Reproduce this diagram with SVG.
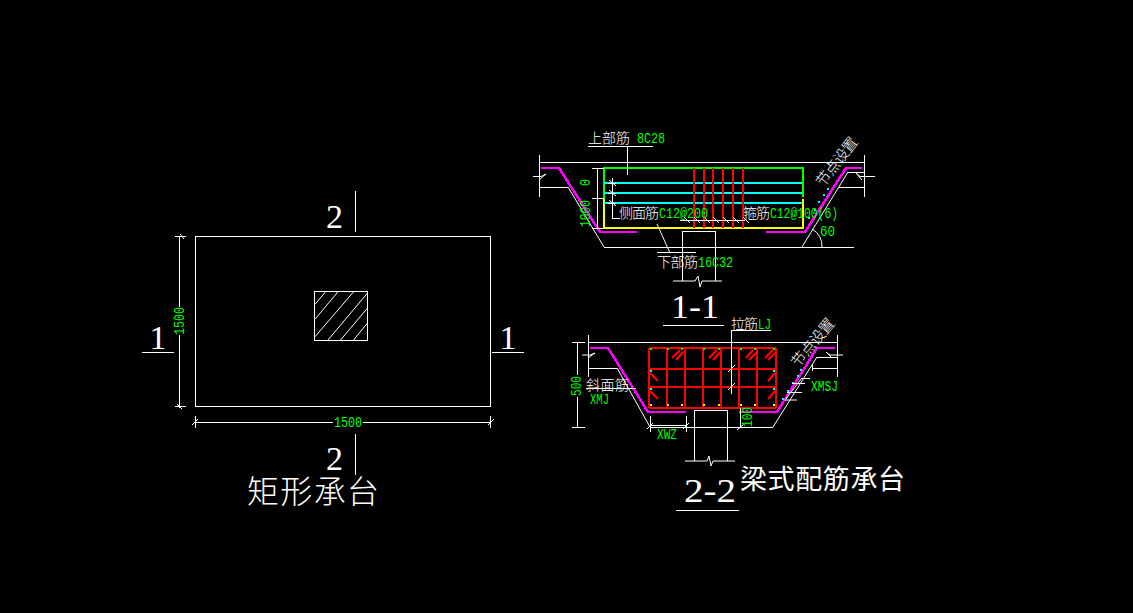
<svg xmlns="http://www.w3.org/2000/svg" width="1133" height="613" viewBox="0 0 1133 613">
<style>
.w{fill:none;stroke:#fff;stroke-width:1;shape-rendering:crispEdges}
.wa{fill:none;stroke:#fff;stroke-width:1}
.m{fill:none;stroke:#f0f;stroke-width:2.6;shape-rendering:crispEdges}
.g{fill:none;stroke:#0f0;stroke-width:2.4;shape-rendering:crispEdges}
.y{fill:none;stroke:#ff0;stroke-width:2.4;shape-rendering:crispEdges}
.c{fill:none;stroke:#0ff;stroke-width:2.4;shape-rendering:crispEdges}
.r{fill:none;stroke:#f00;stroke-width:2.4;shape-rendering:crispEdges}
.rd{fill:none;stroke:#f00;stroke-width:2.4}
.num{fill:#0f0;font-family:"Liberation Mono",monospace;font-size:15px}
.cjk{fill:#fff;font-family:"Noto Sans CJK SC","Noto Sans CJK JP",sans-serif;font-size:14px;font-weight:300}
.sec{fill:#fff;font-family:"Liberation Serif",serif;font-size:34px}
.big{fill:#fff;font-family:"Noto Sans CJK SC","Noto Sans CJK JP",sans-serif;font-weight:300}
.dg{fill:#0f0}.dc{fill:#0ff}.dy{fill:#ff0}
</style>
<rect width="1133" height="613" fill="#000"/>

<g id="plan">
  <rect class="w" x="195" y="236" width="295" height="170"/>
  <rect class="w" x="314" y="291" width="53" height="49"/>
  <path class="wa" d="M315 304.3L326 291.3M315 319.3L338.3 291.3M315 336.7L354 291.3M327.7 340.3L367.3 293.3M340.3 340.3L367.3 308.3M353.3 340.3L367.3 323.3"/>
  <path class="w" d="M179 236V307M179 335V408M175 236H186M175 406H186"/>
  <path class="wa" d="M180 234L184 239M177 404L182 409"/>
  <path class="w" d="M195 422H333M363 422H491M195 416V428M490 416V428"/>
  <path class="wa" d="M192 425L198 419M488 425L494 419"/>
  <text class="num" transform="translate(184,335) rotate(-90)" textLength="28" lengthAdjust="spacingAndGlyphs">1500</text>
  <text class="num" x="334" y="427" textLength="28" lengthAdjust="spacingAndGlyphs">1500</text>
  <path class="w" d="M355 191V232M355 434V475M142 352H174M492 352H524"/>
  <text class="sec" x="334.500" y="228" text-anchor="middle">2</text>
  <text class="sec" x="334.500" y="470" text-anchor="middle">2</text>
  <text class="sec" x="158" y="349" text-anchor="middle">1</text>
  <text class="sec" x="508" y="349" text-anchor="middle">1</text>
  <text class="big" x="247" y="503" font-size="32" textLength="132">矩形承台</text>
</g>

<g id="section-1-1">
  <path class="w" d="M540 162H864M539 155V197M864 155V197M540 187H568M604 247H854M848 172H864M838 187H864"/>
  <path class="wa" d="M568 187L604 247M802 247L848 172M533 176.500H541L546 174L539 180M875 176.500H860L856 173L862 180"/>
  <path class="m" d="M541 168H559L600 232H637M766 232H805L846 168H862"/>
  <path class="y" d="M604 199V228H803V199"/>
  <path class="g" d="M604 199V168H803V197"/>
  <path class="c" d="M604 183H802M604 193H802M604 203H802"/>
  <path class="r" d="M694 168V228M704 168V228M713 168V228M723 168V228M733 168V228M743 168V228"/>
  <path class="w" d="M597 168V228M592 168H604M592 198H604M592 228H604M612 178V218H620M608 183H616M608 193H616M608 203H616M680 220H745"/>
  <path class="wa" d="M609 180L616 186M609 190L616 196M609 200L616 206M684 217L690 223M694 217L700 223M704 217L710 223M713 217L719 223M723 217L729 223M733 217L739 223M743 217L749 223"/>
  <path class="w" d="M588 146H653M627 146V175M657 252H696M682 231V281M715 231V281M682 231H715"/>
  <path class="wa" d="M657 224L670 253M673 281H695L698 276L700 287L702 281H722"/>
  <path class="wa" d="M822 247A20 20 0 0 0 812 229"/>
  <g><rect class="dc" x="827" y="188" width="2" height="2"/><rect class="dc" x="823" y="194" width="2" height="2"/><rect class="dc" x="818" y="201" width="2" height="2"/><rect class="dc" x="814" y="209" width="2" height="2"/><rect class="dc" x="808" y="217" width="2" height="2"/></g>
  <text class="cjk" x="588" y="143" textLength="42">上部筋</text>
  <text class="num" x="637" y="143" textLength="28" lengthAdjust="spacingAndGlyphs">8C28</text>
  <text class="cjk" x="619" y="218" textLength="40">侧面筋</text>
  <text class="num" x="659" y="218" textLength="49" lengthAdjust="spacingAndGlyphs">C12@200</text>
  <text class="cjk" x="743" y="218" textLength="27">箍筋</text>
  <text class="num" x="770" y="218" textLength="68" lengthAdjust="spacingAndGlyphs">C12@100(6)</text>
  <text class="cjk" x="657" y="267" textLength="41">下部筋</text>
  <text class="num" x="698" y="267" textLength="35" lengthAdjust="spacingAndGlyphs">16C32</text>
  <text class="num" x="820" y="236" textLength="15" lengthAdjust="spacingAndGlyphs">60</text>
  <text class="num" transform="translate(590,186) rotate(-90)" textLength="7" lengthAdjust="spacingAndGlyphs">0</text>
  <text class="num" transform="translate(590,227) rotate(-90)" textLength="27" lengthAdjust="spacingAndGlyphs">1000</text>
  <text class="cjk" transform="translate(841,165) rotate(-52)" text-anchor="middle" style="font-size:15px" textLength="58">节点设置</text>
  <text class="sec" x="671" y="318" textLength="48" lengthAdjust="spacingAndGlyphs">1-1</text>
  <path class="w" d="M663 325H724"/>
</g>

<g id="section-2-2">
  <path class="w" d="M588 342H837M588 335V377M837 335V377M588 368H617M650 427H773M817 357H837M812 368H837M812 364V371"/>
  <path class="wa" d="M617 368L650 427M773 427L817 357M582 355H590L595 353L588 358M843 355H830L826 352L832 358"/>
  <path class="m" d="M590 348H608L648 412H686M739 412H777L817 348H835"/>
  <path class="r" d="M649 348V408M667 348V408M685 348V408M703 348V408M721 348V408M739 348V408M757 348V408M776 348V408M649 348H776M649 369H776M649 387H776M649 408H776"/>
  <path class="rd" d="M672 358L680 350M676 360L683 352M650 373L658 381M650 391L658 399M709 358L717 350M713 360L720 352M746 358L753 350M749 360L757 352M765 358L773 350M768 360L776 352M768 381L775 373M768 399L775 391"/>
  <g>
    <rect class="dg" x="650" y="348" width="2" height="2"/><rect class="dg" x="667" y="348" width="2" height="2"/><rect class="dg" x="681" y="348" width="2" height="2"/><rect class="dg" x="703" y="348" width="2" height="2"/><rect class="dg" x="718" y="348" width="2" height="2"/><rect class="dg" x="740" y="348" width="2" height="2"/><rect class="dg" x="754" y="348" width="2" height="2"/><rect class="dg" x="773" y="348" width="2" height="2"/>
    <rect class="dc" x="650" y="370" width="2" height="2"/><rect class="dc" x="650" y="388" width="2" height="2"/><rect class="dc" x="773" y="370" width="2" height="2"/><rect class="dc" x="773" y="388" width="2" height="2"/>
    <rect class="dy" x="650" y="404" width="2" height="2"/><rect class="dy" x="667" y="404" width="2" height="2"/><rect class="dy" x="681" y="404" width="2" height="2"/><rect class="dy" x="703" y="404" width="2" height="2"/><rect class="dy" x="718" y="404" width="2" height="2"/><rect class="dy" x="740" y="404" width="2" height="2"/><rect class="dy" x="754" y="404" width="2" height="2"/><rect class="dy" x="773" y="404" width="2" height="2"/>
    <rect class="dc" x="800" y="369" width="2" height="2"/><rect class="dc" x="797" y="375" width="2" height="2"/><rect class="dc" x="792" y="382" width="2" height="2"/><rect class="dc" x="787" y="390" width="2" height="2"/><rect class="dc" x="782" y="398" width="2" height="2"/>
  </g>
  <path class="w" d="M577 342V375M577 397V427M572 342H585M572 427H585M586 388H636M650 416V432M686 416V432M650 425H686M740 408V428"/>
  <path class="w" d="M731 330H771M731 330V394M792 383H805M787 392H802M810 378H802"/>
  <path class="wa" d="M728 372L735 365M728 390L735 383M647 429L653 423M683 429L689 423M802 378L785 400H797M737 430L743 425"/>
  <path class="w" d="M694 410V461M727 410V461M694 410H727"/>
  <path class="wa" d="M685 461H707L709 456L711 466L713 461H735"/>
  <text class="cjk" x="731" y="329" textLength="27">拉筋</text>
  <text class="num" x="758" y="329" textLength="13" lengthAdjust="spacingAndGlyphs">LJ</text>
  <text class="cjk" x="586" y="390" textLength="43">斜面筋</text>
  <text class="num" x="590" y="404" textLength="19" lengthAdjust="spacingAndGlyphs">XMJ</text>
  <text class="num" x="657" y="439" textLength="20" lengthAdjust="spacingAndGlyphs">XWZ</text>
  <text class="num" x="811" y="391" textLength="27" lengthAdjust="spacingAndGlyphs">XMSJ</text>
  <text class="num" transform="translate(581,396) rotate(-90)" textLength="20" lengthAdjust="spacingAndGlyphs">500</text>
  <text class="num" transform="translate(752,427) rotate(-90)" textLength="20" lengthAdjust="spacingAndGlyphs">100</text>
  <text class="cjk" transform="translate(817,346) rotate(-50)" text-anchor="middle" style="font-size:15px" textLength="58">节点设置</text>
  <text class="sec" x="684" y="502" textLength="52" lengthAdjust="spacingAndGlyphs">2-2</text>
  <path class="w" d="M676 510H739"/>
</g>

<g id="caption">
  <text x="740" y="489" fill="#fff" font-family="'Noto Sans CJK SC','Noto Sans CJK JP',sans-serif" font-size="27" font-weight="400" textLength="165">梁式配筋承台</text>
</g>
</svg>
